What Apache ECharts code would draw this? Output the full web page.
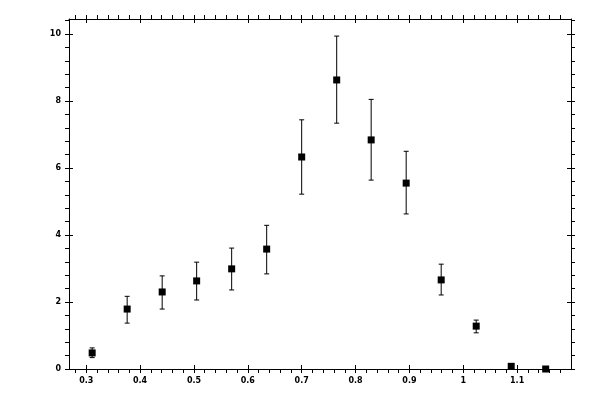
<!DOCTYPE html>
<html>
<head>
  <meta charset="utf-8">
  <title>ECharts</title>
  <script src="https://cdn.jsdelivr.net/npm/echarts@6/dist/echarts.min.js"></script>
</head>
<body style="margin:0">
  <div id="main" style="width:600px;height:400px;"></div>
  <script type="text/javascript">
    // values
    var xValues = [0.311, 0.376, 0.441, 0.505, 0.570, 0.635, 0.700, 0.765, 0.829, 0.894, 0.959, 1.024, 1.089, 1.153];
    var yValues = [0.48, 1.79, 2.30, 2.63, 2.99, 3.58, 6.33, 8.63, 6.84, 5.55, 2.66, 1.28, 0.08, 0.0];
    var yLow    = [0.34, 1.37, 1.79, 2.06, 2.36, 2.84, 5.22, 7.34, 5.64, 4.63, 2.21, 1.08, 0.04, 0.0];
    var yHigh   = [0.63, 2.17, 2.78, 3.19, 3.61, 4.29, 7.44, 9.94, 8.05, 6.50, 3.13, 1.46, 0.12, 0.0];

    var xMajorTicks = [0.3, 0.4, 0.5, 0.6, 0.7, 0.8, 0.9, 1, 1.1];
    var yMajorTicks = [0, 2, 4, 6, 8, 10];
    var xRange = [0.268, 1.2];
    var yRange = [0, 10.45];

    // minor ticks: 5 subdivisions of each major step, kept inside the range
    function minorTicks(major, range) {
      var step = (major[1] - major[0]) / 5;
      var out = [];
      var start = major[0] - 5 * step;
      for (var v = start; v <= range[1] + 1e-9; v += step) {
        var r = Math.round(v * 1000) / 1000;
        var isMajor = major.some(function (m) { return Math.abs(m - r) < 1e-6; });
        if (!isMajor && r > range[0] && r < range[1]) out.push(r);
      }
      return out;
    }

    function sideAxes(pos, range, major, withLabels) {
      var base = {
        type: 'value',
        position: pos,
        min: range[0],
        max: range[1],
        splitLine: { show: false },
        minorTick: { show: false }
      };
      var outer = Object.assign({}, base, {
        axisLine: { show: true, onZero: false, lineStyle: { color: '#000', width: 1 } },
        axisTick: {
          show: true, inside: false, length: 4,
          customValues: major.concat(minorTicks(major, range)),
          lineStyle: { color: '#000', width: 1 }
        },
        axisLabel: {
          show: withLabels,
          customValues: major,
          margin: 8,
          color: '#000',
          fontFamily: 'DejaVu Sans',
          fontWeight: 'bold',
          fontSize: 8
        }
      });
      var inner = Object.assign({}, base, {
        axisLine: { show: false, onZero: false },
        axisTick: {
          show: true, inside: true, length: 4,
          customValues: major,
          lineStyle: { color: '#000', width: 1 }
        },
        axisLabel: { show: false }
      });
      return [outer, inner];
    }

    var myChart = echarts.init(document.getElementById('main'));

    var points = xValues.map(function (x, i) { return [x, yValues[i]]; });
    var bars = xValues.map(function (x, i) { return [x, yLow[i], yHigh[i]]; });

    var option = {
      animation: false,
      backgroundColor: '#fff',
      grid: { left: 69, right: 29, top: 19, bottom: 31, containLabel: false },
      xAxis: sideAxes('bottom', xRange, xMajorTicks, true)
        .concat(sideAxes('top', xRange, xMajorTicks, false)),
      yAxis: sideAxes('left', yRange, yMajorTicks, true)
        .concat(sideAxes('right', yRange, yMajorTicks, false)),
      series: [
        {
          type: 'custom',
          xAxisIndex: 0,
          yAxisIndex: 0,
          data: bars,
          encode: { x: 0, y: [1, 2] },
          renderItem: function (params, api) {
            var lo = api.coord([api.value(0), api.value(1)]);
            var hi = api.coord([api.value(0), api.value(2)]);
            var w = 2.5;
            var st = { stroke: '#000', lineWidth: 1 };
            return {
              type: 'group',
              children: [
                { type: 'line', shape: { x1: lo[0], y1: lo[1], x2: hi[0], y2: hi[1] }, style: st },
                { type: 'line', shape: { x1: lo[0] - w, y1: lo[1], x2: lo[0] + w, y2: lo[1] }, style: st },
                { type: 'line', shape: { x1: hi[0] - w, y1: hi[1], x2: hi[0] + w, y2: hi[1] }, style: st }
              ]
            };
          },
          z: 2
        },
        {
          type: 'scatter',
          xAxisIndex: 0,
          yAxisIndex: 0,
          data: points,
          symbol: 'rect',
          symbolSize: 7,
          itemStyle: { color: '#000', opacity: 1 },
          z: 3
        }
      ]
    };

    myChart.setOption(option);
  </script>
</body>
</html>
